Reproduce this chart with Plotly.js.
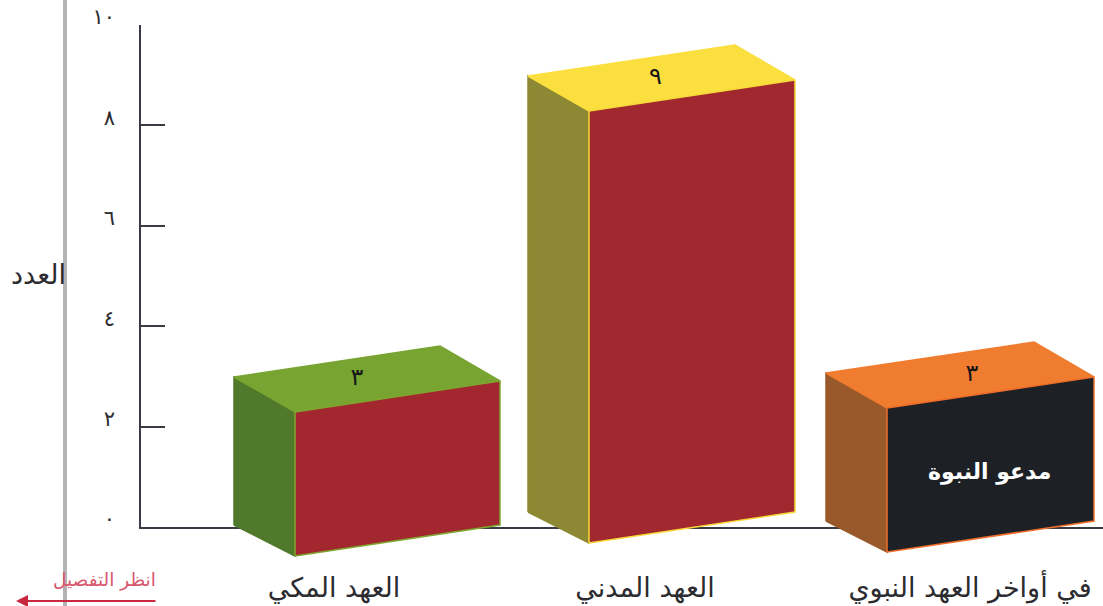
<!DOCTYPE html>
<html lang="ar"><head><meta charset="utf-8">
<script src="https://cdn.plot.ly/plotly-3.0.1.min.js"></script>
<style>html,body{margin:0;padding:0;background:#fff}#c{width:1103px;height:606px}</style>
</head><body><div id="c"></div>
<script>
// Data
const categories = ['العهد المكي', 'العهد المدني', 'في أواخر العهد النبوي'];
const counts = [3, 9, 3];
const countLabels = ['٣', '٩', '٣'];
const tickValues = [0, 2, 4, 6, 8, 10];
const tickLabels = ['٠', '٢', '٤', '٦', '٨', '١٠'];
const sideColors = ['#50792b', '#8c8833', '#99592a'];
const topColors = ['#78a431', '#fbdf3f', '#f07c2f'];
const frontColors = ['#a3272f', '#a1282f', '#1d2125'];
const edgeColors = ['#7fa62f', '#f7d93a', '#ee6d2a'];

// Page geometry (pixels)
const W = 1103, H = 606, y0px = 527, y10px = 25, labelLift = 8, axisX = 141;
const pxPerUnit = (y0px - y10px) / 10;
const U = p => (y0px - p) / pxPerUnit;          // page pixel row -> value-axis units
const frontLeft = [295, 589, 887], frontBase = [556, 543, 552], frontWidth = [205, 206, 207];
const labelShift = [-10, -6, 12];
const frontSkew = 31, depthX = 61, backX = 60, depthTop = 35, depthBottom = 31, unitHeight = 48;

const traces = [];
// carrier traces that keep the drawn value axis and its label axis on the page
[['y'], ['y3']].forEach(([ya]) => traces.push({type:'scatter', mode:'markers', x:frontLeft, y:counts, xaxis:'x', yaxis:ya,
  marker:{opacity:0, size:1}, hoverinfo:'skip', showlegend:false}));

function face(xs, ys, fill, line) {
  traces.push({type:'scatter', mode:'lines', x:xs.concat(xs[0]), y:ys.concat(ys[0]), xaxis:'x', yaxis:'y2',
    fill:'toself', fillcolor:fill, line:{color:line, width:1.5}, hoverinfo:'skip', showlegend:false});
}
const labelX = [], labelY = [];
counts.forEach((v, i) => {
  const xl = frontLeft[i], xr = xl + frontWidth[i];
  const bl = U(frontBase[i]), sk = frontSkew / pxPerUnit;
  const br = bl + sk, h = v * unitHeight / pxPerUnit;
  const dt = depthTop / pxPerUnit, db = depthBottom / pxPerUnit;
  face([xl - depthX, xl, xl, xl - depthX], [bl + db, bl, bl + h, bl + h + dt], sideColors[i], sideColors[i]);
  face([xl - depthX, xl, xr, xr - backX], [bl + h + dt, bl + h, br + h, br + h + dt], topColors[i], topColors[i]);
  face([xl, xr, xr, xl], [bl, br, br + h, bl + h], frontColors[i], edgeColors[i]);
  labelX.push(xl + (frontWidth[i] - depthX) / 2 + labelShift[i]);
  labelY.push(bl + h + (dt + sk) / 2);
});
traces.push({type:'scatter', mode:'text', x:labelX, y:labelY, text:countLabels, xaxis:'x', yaxis:'y2',
  textposition:'middle center', textfont:{family:'DejaVu Sans', size:24, color:'#15151a'},
  hoverinfo:'skip', showlegend:false});

const axisColor = '#3b3b45';
const layout = {
  width:W, height:H, margin:{l:0,r:0,t:0,b:0,pad:0}, paper_bgcolor:'#ffffff', plot_bgcolor:'rgba(0,0,0,0)',
  showlegend:false,
  xaxis:{domain:[axisX/W,1], range:[axisX,W], showgrid:false, zeroline:false, showline:true, linecolor:axisColor, linewidth:2,
    layer:'below traces', tickmode:'array', tickvals:[334,645,970], ticktext:categories, ticks:'', ticklabelstandoff:36,
    tickfont:{family:'DejaVu Sans', size:27, color:'#2b2b30'}, fixedrange:true},
  yaxis:{domain:[(H-y0px)/H,(H-y10px)/H], range:[0,10], showgrid:false, zeroline:false, showline:true, linecolor:axisColor, linewidth:2,
    layer:'below traces', tickmode:'array', tickvals:tickValues, showticklabels:false, ticks:'inside', ticklen:24, tickwidth:2, tickcolor:axisColor, fixedrange:true},
  yaxis2:{domain:[0,1], anchor:'x', range:[U(H),U(0)], visible:false, fixedrange:true},
  yaxis3:{domain:[(H-y0px+labelLift)/H,(H-y10px+labelLift)/H], range:[0,10], anchor:'free', position:axisX/W, showgrid:false, zeroline:false, showline:false,
    tickmode:'array', tickvals:tickValues, ticktext:tickLabels, ticks:'', ticklabelstandoff:26, tickfont:{family:'DejaVu Sans', size:21, color:'#2b2b30'}, fixedrange:true},
  shapes:[{type:'line', xref:'paper', yref:'paper', x0:65/W, x1:65/W, y0:0, y1:1, line:{color:'#b4b2b5', width:4}, layer:'above'}],
  annotations:[
    {xref:'paper', yref:'paper', x:68/W, y:1-274/H, xanchor:'right', yanchor:'middle', text:'العدد', showarrow:false, font:{family:'DejaVu Sans', size:27, color:'#2b2b30'}},
    {xref:'paper', yref:'paper', x:104/W, y:1-580/H, xanchor:'center', yanchor:'middle', text:'انظر التفصيل', showarrow:false, font:{family:'DejaVu Sans', size:18.5, color:'#d8566e'}},
    {xref:'paper', yref:'paper', x:989/W, y:1-472/H, xanchor:'center', yanchor:'middle', text:'<b>مدعو النبوة</b>', showarrow:false, font:{family:'DejaVu Sans', size:22, color:'#ffffff'}},
    {xref:'paper', yref:'paper', x:16/W, y:1-601/H, axref:'pixel', ayref:'pixel', ax:141, ay:0, text:'', showarrow:true, arrowhead:2, arrowsize:1.2, arrowwidth:2, arrowcolor:'#c9283f'}
  ]
};
Plotly.newPlot('c', traces, layout, {displayModeBar:false, staticPlot:true});
</script></body></html>
